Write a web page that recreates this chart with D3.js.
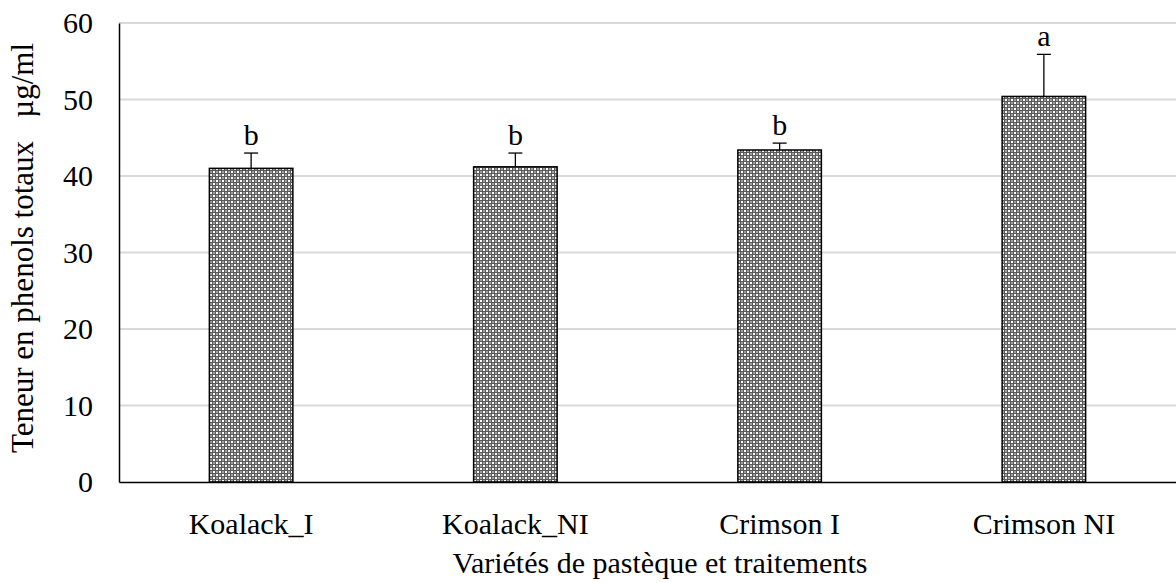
<!DOCTYPE html>
<html lang="en">
    <head>
        <meta charset="utf-8">
        <title>Phenols</title>
        <script src="https://cdn.jsdelivr.net/npm/d3@7"></script>
    </head>

    <body style = "margin: 0px; background: white">
        <script type="text/javascript">

            var categories = ["Koalack_I", "Koalack_NI", "Crimson I", "Crimson NI"];
            var means = [41.0, 41.2, 43.4, 50.4];
            var errors = [2.0, 1.8, 0.9, 5.5];
            var letters = ["b", "b", "b", "a"];
            var yTicks = [0, 10, 20, 30, 40, 50, 60];

            var width = 1176;
            var height = 583;
            var margin = {left: 119, right: 0, top: 23, bottom: 101};
            var fontSize = "30px";
            var serif = "'Liberation Serif', 'Times New Roman', 'DejaVu Serif', serif";

            var svg = d3.select("body")
                .append("svg")
                .attr("width", width)
                .attr("height", height)
                .style("font-family", serif);

            // checkered fill for the bars
            var pat = svg.append("defs").append("pattern")
                .attr("id", "checks")
                .attr("patternUnits", "userSpaceOnUse")
                .attr("width", 6)
                .attr("height", 6);
            pat.append("rect").attr("width", 6).attr("height", 6).attr("fill", "#5a5a5a");
            pat.append("rect").attr("x", 0).attr("y", 0).attr("width", 2).attr("height", 2).attr("fill", "#ffffff");
            pat.append("rect").attr("x", 3).attr("y", 3).attr("width", 2).attr("height", 2).attr("fill", "#ffffff");
            pat.append("rect").attr("x", 3).attr("y", 0).attr("width", 2).attr("height", 2).attr("fill", "#a0a0a0");
            pat.append("rect").attr("x", 0).attr("y", 3).attr("width", 2).attr("height", 2).attr("fill", "#a0a0a0");

            var x = d3.scaleBand()
                .domain(categories)
                .range([margin.left, width - margin.right])
                .paddingInner(0.684)
                .paddingOuter(0.342);

            var y = d3.scaleLinear()
                .domain([0, 60])
                .range([height - margin.bottom, margin.top]);

            // gridlines
            svg.append("g")
                .selectAll("line")
                .data(yTicks.slice(1))
                .enter()
                .append("line")
                .attr("x1", margin.left)
                .attr("x2", width - margin.right)
                .attr("y1", function(d){ return y(d); })
                .attr("y2", function(d){ return y(d); })
                .attr("stroke", "#d9d9d9")
                .attr("stroke-width", 2);

            // bars
            svg.append("g")
                .selectAll("rect")
                .data(means)
                .enter()
                .append("rect")
                .attr("x", function(d, i){ return x(categories[i]); })
                .attr("y", function(d){ return y(d); })
                .attr("width", x.bandwidth())
                .attr("height", function(d){ return y(0) - y(d); })
                .attr("fill", "url(#checks)")
                .attr("stroke", "#000")
                .attr("stroke-width", 1.5);

            // error bars
            var eb = svg.append("g");
            eb.selectAll("line.v")
                .data(means)
                .enter()
                .append("line")
                .attr("class", "v")
                .attr("x1", function(d, i){ return x(categories[i]) + x.bandwidth() / 2; })
                .attr("x2", function(d, i){ return x(categories[i]) + x.bandwidth() / 2; })
                .attr("y1", function(d){ return y(d); })
                .attr("y2", function(d, i){ return y(d + errors[i]); })
                .attr("stroke", "#000")
                .attr("stroke-width", 1.3);
            eb.selectAll("line.h")
                .data(means)
                .enter()
                .append("line")
                .attr("class", "h")
                .attr("x1", function(d, i){ return x(categories[i]) + x.bandwidth() / 2 - 7; })
                .attr("x2", function(d, i){ return x(categories[i]) + x.bandwidth() / 2 + 7; })
                .attr("y1", function(d, i){ return y(d + errors[i]); })
                .attr("y2", function(d, i){ return y(d + errors[i]); })
                .attr("stroke", "#000")
                .attr("stroke-width", 1.3);

            // significance letters
            svg.append("g")
                .selectAll("text")
                .data(means)
                .enter()
                .append("text")
                .attr("x", function(d, i){ return x(categories[i]) + x.bandwidth() / 2; })
                .attr("y", function(d, i){ return y(d + errors[i]) - 8; })
                .attr("text-anchor", "middle")
                .style("font-family", serif)
                .style("font-size", fontSize)
                .text(function(d, i){ return letters[i]; });

            // axes
            var yAxis = svg.append("g")
                .attr("transform", "translate(" + margin.left + ",0)")
                .call(d3.axisLeft(y).tickValues(yTicks).tickSize(0).tickPadding(26));
            yAxis.select(".domain").attr("stroke", "#000").attr("stroke-width", 1.5);
            yAxis.selectAll("text")
                .style("font-family", serif)
                .style("font-size", fontSize)
                .attr("fill", "#000");

            var xAxis = svg.append("g")
                .attr("transform", "translate(0," + y(0) + ")")
                .call(d3.axisBottom(x).tickSize(0).tickPadding(0));
            xAxis.select(".domain").attr("stroke", "#000").attr("stroke-width", 1.5);
            xAxis.selectAll("text")
                .style("font-family", serif)
                .attr("dy", null)
                .attr("y", 52)
                .style("font-size", fontSize)
                .attr("fill", "#000");

            svg.append("text")
                .attr("x", 660)
                .attr("y", 573)
                .attr("text-anchor", "middle")
                .style("font-family", serif)
                .style("font-size", fontSize)
                .text("Variétés de pastèque et traitements");

            svg.append("text")
                .attr("transform", "translate(33,248) rotate(-90)")
                .attr("text-anchor", "middle")
                .style("font-family", serif)
                .style("font-size", "31px")
                .style("white-space", "pre")
                .text("Teneur en phenols totaux   µg/ml");
        </script>
    </body>
</html>
